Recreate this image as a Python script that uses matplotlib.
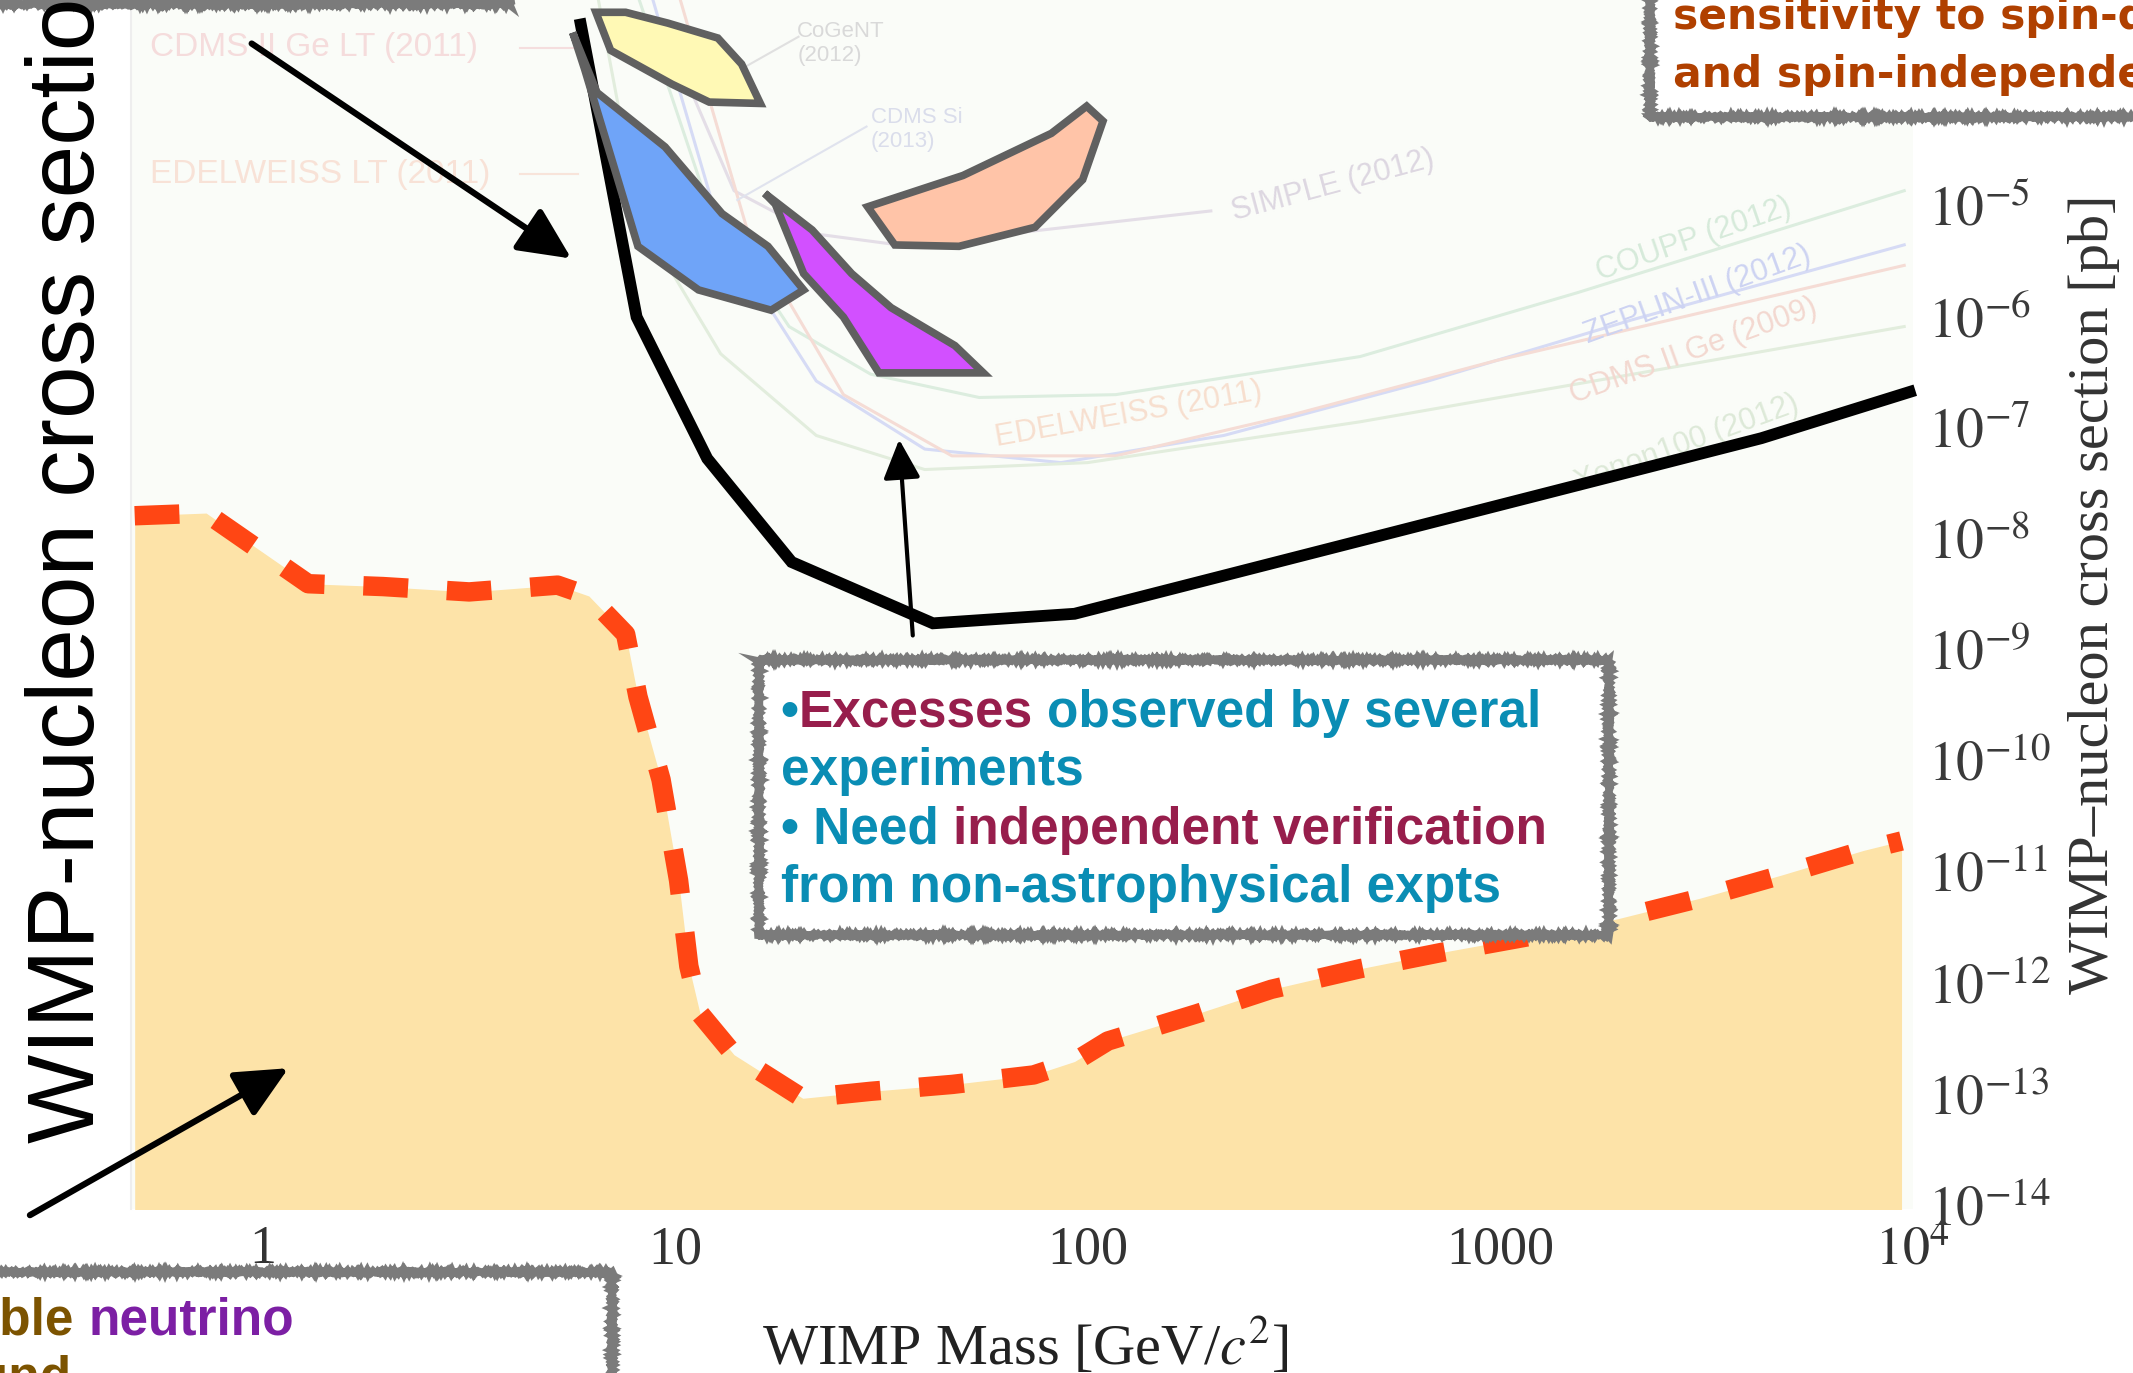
import matplotlib
matplotlib.use("Agg")
import matplotlib.pyplot as plt
from matplotlib import font_manager
from matplotlib.patches import Rectangle, Polygon, FancyArrowPatch
from matplotlib.lines import Line2D
from matplotlib.ticker import NullLocator

plt.rcParams["mathtext.fontset"] = "stix"

# ---------------------------------------------------------------
# values (mass in GeV/c^2, cross section in pb)
# ---------------------------------------------------------------
# upper edge of the neutrino background region
nu_mass = [0.49, 0.73, 1.29, 1.96, 3.17, 5.19, 6.18, 7.59, 8.13, 9.25,
           10.2, 10.8, 11.5, 13.9, 20.4, 29.8, 47.0, 74.0, 93.0, 112,
           184, 279, 458, 722, 1183, 1937, 3054, 4818, 7598, 9400]
nu_sigma = [1.57e-8, 1.66e-8, 3.84e-9, 3.62e-9, 3.24e-9, 3.73e-9, 2.98e-9, 1.35e-9, 3.70e-10, 6.62e-11,
            8.22e-12, 1.39e-12, 5.19e-13, 2.22e-13, 9.0e-14, 1.04e-13, 1.20e-13, 1.46e-13, 1.93e-13, 2.95e-13,
            5.19e-13, 8.61e-13, 1.32e-12, 1.85e-12, 2.58e-12, 3.73e-12, 5.69e-12, 9.20e-12, 1.53e-11, 1.86e-11]

# projected sensitivity (thick black curve)
proj_mass = [5.91, 8.07, 11.97, 19.17, 42.2, 93.0, 4299, 9833]
proj_sigma = [4.13e-4, 9.64e-7, 5.13e-8, 6.02e-9, 1.69e-9, 2.06e-9, 7.83e-8, 2.04e-7]

# signal regions
cogent_mass = [6.43, 7.59, 9.61, 12.7, 14.5, 16.1, 12.1, 9.83, 6.98]
cogent_sigma = [5.32e-4, 5.32e-4, 4.25e-4, 3.12e-4, 1.82e-4, 8.05e-5, 8.28e-5, 1.20e-4, 2.42e-4]
dama_mass = [5.65, 6.47, 9.46, 13.0, 16.8, 20.5, 17.1, 11.4, 8.13, 6.04]
dama_sigma = [3.49e-4, 1.01e-4, 3.27e-5, 8.21e-6, 4.17e-6, 1.69e-6, 1.11e-6, 1.69e-6, 4.17e-6, 1.63e-4]
cdmssi_mass = [16.5, 21.5, 26.8, 33.4, 47.7, 55.9, 31.2, 25.6, 20.5, 17.5]
cdmssi_sigma = [1.25e-5, 5.85e-6, 2.37e-6, 1.17e-6, 5.33e-7, 3.03e-7, 3.03e-7, 9.63e-7, 2.37e-6, 1.0e-5]
cresst_mass = [29.3, 49.9, 81.7, 99.5, 109, 97.3, 74.6, 48.8, 34.1]
cresst_sigma = [9.45e-6, 1.81e-5, 4.33e-5, 7.61e-5, 5.58e-5, 1.66e-5, 6.19e-6, 4.17e-6, 4.29e-6]

# faded exclusion curves of the underlying plot
simple_mass = [10.7, 13.9, 22.0, 34.7, 63.6, 199]
simple_sigma = [1.26e-4, 1.32e-5, 5.38e-6, 4.30e-6, 5.38e-6, 8.68e-6]
coupp_mass = [8.19, 12.0, 18.9, 29.8, 54.6, 117, 458, 1543, 9541]
coupp_sigma = [6.87e-4, 1.0e-5, 7.91e-7, 2.95e-7, 1.82e-7, 1.93e-7, 4.25e-7, 1.60e-6, 1.32e-5]
zeplin_mass = [8.84, 12.9, 22.0, 40.3, 86.2, 214, 669, 2090, 9541]
zeplin_sigma = [6.87e-4, 5.69e-6, 2.56e-7, 6.25e-8, 4.72e-8, 8.29e-8, 2.56e-7, 9.10e-7, 4.30e-6]
cdmsge_mass = [10.3, 15.0, 25.6, 46.9, 117, 313, 978, 3055, 9541]
cdmsge_sigma = [6.87e-4, 5.69e-6, 1.93e-7, 5.43e-8, 5.43e-8, 1.27e-7, 3.91e-7, 1.05e-6, 2.81e-6]
xenon_mass = [6.52, 8.19, 12.9, 22.0, 40.3, 100, 458, 2090, 9541]
xenon_sigma = [6.87e-4, 7.55e-6, 4.50e-7, 8.28e-8, 4.09e-8, 4.72e-8, 1.10e-7, 2.94e-7, 7.91e-7]

x_ticks = [1, 10, 100, 1000, 1e4]
x_ticklabels = ["1", "10", "100", "1000", r"$10^4$"]
y_ticks = [1e-5, 1e-6, 1e-7, 1e-8, 1e-9, 1e-10, 1e-11, 1e-12, 1e-13, 1e-14]
y_ticklabels = [r"$10^{%d}$" % e for e in range(-5, -15, -1)]

# ---------------------------------------------------------------
# layout helpers: positions measured on a 1568 x 1009 copy of the slide
# ---------------------------------------------------------------
W_REF, H_REF = 1568, 1009


def fx(x):
    return x / W_REF


def fy(y):
    return 1 - y / H_REF


avail = {f.name for f in font_manager.fontManager.ttflist}
NARROW = "Liberation Sans Narrow" if "Liberation Sans Narrow" in avail else "Liberation Sans"

fig = plt.figure(figsize=(21.33, 13.73), dpi=100)
fig.patch.set_facecolor("white")
ax = fig.add_axes([fx(96.3), fy(888.8), fx(1406) - fx(96.3), fy(-0.7) - fy(888.8)])
ax.set_facecolor("#FAFCF8")
ax.set_xscale("log")
ax.set_yscale("log")
ax.set_xlim(0.48, 1e4)
ax.set_ylim(9e-15, 7e-4)
for side in ["top", "right", "bottom"]:
    ax.spines[side].set_visible(False)
ax.spines["left"].set_color("#EEEEEE")
ax.spines["left"].set_linewidth(1.5)

# faded curves + labels
faint = [(simple_mass, simple_sigma, "#E4DEE7"),
         (coupp_mass, coupp_sigma, "#DCEDDF"),
         (zeplin_mass, zeplin_sigma, "#D6DBF5"),
         (cdmsge_mass, cdmsge_sigma, "#F5DCD5"),
         (xenon_mass, xenon_sigma, "#E2EDDD")]
for m, s, c in faint:
    ax.plot(m, s, color=c, lw=2.2, zorder=1)

fl = dict(family=NARROW, zorder=1.5, transform=fig.transFigure)
ax.text(fx(110), fy(35), "CDMS II Ge LT (2011)", color="#F5DCDC", fontsize=24, va="center", **fl)
ax.text(fx(110), fy(128), "EDELWEISS LT (2011)", color="#F8E2D7", fontsize=24, va="center", **fl)
ax.text(fx(586), fy(32), "CoGeNT\n(2012)", color="#D9D9D9", fontsize=16, va="center", linespacing=1.2, **fl)
ax.text(fx(640), fy(95), "CDMS Si\n(2013)", color="#DADDEB", fontsize=16, va="center", linespacing=1.2, **fl)
rot_labels = [("SIMPLE (2012)", 980, 136, 15, "#DDD7E1"),
              ("COUPP (2012)", 1245, 176, 19, "#D6EADA"),
              ("ZEPLIN-III (2012)", 1248, 217, 20, "#CDD3F2"),
              ("CDMS II Ge (2009)", 1245, 258, 20, "#F3D8D0"),
              ("Xenon100 (2012)", 1240, 326, 20, "#DDE9D8"),
              ("EDELWEISS (2011)", 830, 305, 10, "#F7DFCF")]
for txt, xs, ys, rot, c in rot_labels:
    ax.text(fx(xs), fy(ys), txt, color=c, fontsize=22, rotation=rot, rotation_mode="anchor",
            ha="center", va="center", **fl)
for (xa, ya), (xb, yb), c in [((382, 35), (425, 35), "#F5DEDE"), ((382, 128), (425, 128), "#F8E4DA"),
                              ((548, 49), (587, 27), "#E0E0E0"), ((542, 147), (637, 93), "#E0E3EE")]:
    ax.add_line(Line2D([fx(xa), fx(xb)], [fy(ya), fy(yb)], transform=fig.transFigure,
                       color=c, lw=1.5, zorder=1.5))

# neutrino background
ax.fill_between(nu_mass, nu_sigma, 1e-20, color="#FDE3A8", lw=0, zorder=2)
ax.plot(nu_mass, nu_sigma, color="#FF4614", lw=14, linestyle=(0, (2.3, 2.0)),
        dash_capstyle="butt", zorder=3, clip_on=False)

# projected sensitivity
ax.plot(proj_mass, proj_sigma, color="black", lw=8.5, zorder=4, clip_on=False,
        solid_joinstyle="miter")

# signal regions
regions = [(cogent_mass, cogent_sigma, "#FFF9B5"),
           (dama_mass, dama_sigma, "#6FA4F8"),
           (cdmssi_mass, cdmssi_sigma, "#D250FF"),
           (cresst_mass, cresst_sigma, "#FFC4A8")]
for m, s, c in regions:
    ax.add_patch(Polygon(list(zip(m, s)), closed=True, facecolor=c,
                         edgecolor="#606060", lw=5.5, zorder=5, clip_on=False))

# axes ticks
ax.set_xticks(x_ticks, x_ticklabels, family="Liberation Serif", fontsize=39, color="#333333")
ax.xaxis.set_minor_locator(NullLocator())
ax.tick_params(axis="x", length=0, pad=11)
ax.yaxis.tick_right()
ax.set_yticks(y_ticks, y_ticklabels, fontsize=40, color="#3a3a3a")
ax.yaxis.set_minor_locator(NullLocator())
ax.tick_params(axis="y", length=0, pad=11)
ax.set_xlabel(r"WIMP Mass [GeV/$c^2$]", family="Liberation Serif", fontsize=42, color="#222222")
ax.xaxis.set_label_coords(0.502, -0.088)
ax.yaxis.set_label_position("right")
ax.set_ylabel("WIMP\u2013nucleon cross section [pb]", family="Liberation Serif",
              fontsize=42, color="#333333")
ax.yaxis.set_label_coords(1.087, 0.508)


# boxes
def rough_box(x0, y0, x1, y1):
    r = Rectangle((fx(x0), fy(y1)), fx(x1) - fx(x0), fy(y0) - fy(y1), transform=fig.transFigure,
                  facecolor="white", edgecolor="#7b7b7b", lw=5.5, zorder=10)
    r.set_sketch_params(scale=1.2, length=3, randomness=2)
    fig.add_artist(r)


rough_box(-20, -100, 375, 3)
rough_box(1213, -100, 1700, 86)
rough_box(558, 485, 1183, 687)
rough_box(-20, 935, 450, 1100)

# arrows
arrows = [((185, 32), (420, 190), 4.5, 40), ((22, 893), (212, 785), 4.5, 40),
          ((671, 467), (661, 323), 3.0, 30)]
for (xa, ya), (xb, yb), lw, ms in arrows:
    fig.add_artist(FancyArrowPatch((fx(xa), fy(ya)), (fx(xb), fy(yb)), transform=fig.transFigure,
                                   arrowstyle="-|>,head_length=0.8,head_width=0.38",
                                   mutation_scale=ms, lw=lw, color="black",
                                   shrinkA=0, shrinkB=0, zorder=12))

# text
rend = fig.canvas.get_renderer()


def text_w(s, **kw):
    t = fig.text(0, 0, s, **kw)
    w = t.get_window_extent(renderer=rend).width
    t.remove()
    return w / fig.bbox.width


def rich_line(x, y, parts, align="left", **kw):
    sp = text_w("x x", **kw) - text_w("xx", **kw)
    gap = text_w("xx", **kw) - 2 * text_w("x", **kw)
    pieces, total = [], 0
    for i, (s, col) in enumerate(parts):
        lead = len(s) - len(s.lstrip(" "))
        core = s.strip(" ")
        if i > 0:
            total += gap + lead * sp
        pieces.append((total, core, col))
        total += text_w(core, **kw)
    x0 = x - total if align == "right" else x
    for off, core, col in pieces:
        fig.text(x0 + off, y, core, color=col, ha="left", va="baseline", **kw)


TEAL, MAROON = "#0A8DB4", "#971E4C"
BROWN, PURPLE = "#7C5300", "#7C1FA4"
box_kw = dict(family="Liberation Sans", weight="bold", fontsize=37, zorder=11)
rich_line(fx(574), fy(534), [("\u2022", TEAL), ("Excesses", MAROON), (" observed by several", TEAL)], **box_kw)
rich_line(fx(574), fy(577), [("experiments", TEAL)], **box_kw)
rich_line(fx(574), fy(620), [("\u2022 Need", TEAL), (" independent verification", MAROON)], **box_kw)
rich_line(fx(574), fy(663), [("from non-astrophysical expts", TEAL)], **box_kw)

bl_kw = dict(family="Liberation Sans", weight="bold", fontsize=37, zorder=11)
rich_line(fx(216), fy(981), [("Irreducible", BROWN), (" neutrino", PURPLE)], align="right", **bl_kw)
rich_line(fx(53), fy(1024), [("background", BROWN)], align="right", **bl_kw)

tr_kw = dict(family="DejaVu Sans", weight="bold", fontsize=30.5, color="#B04000", zorder=11,
             ha="left", va="baseline")
fig.text(fx(1230), fy(21), "sensitivity to spin-dependent", **tr_kw)
fig.text(fx(1230), fy(64), "and spin-independent", **tr_kw)

fig.text(fx(69), fy(840), "WIMP-nucleon cross section", rotation=90, rotation_mode="anchor",
         ha="left", va="baseline", family="Liberation Sans", fontsize=68, color="black", zorder=11)

fig.savefig("out.png", dpi=100, facecolor="white")
